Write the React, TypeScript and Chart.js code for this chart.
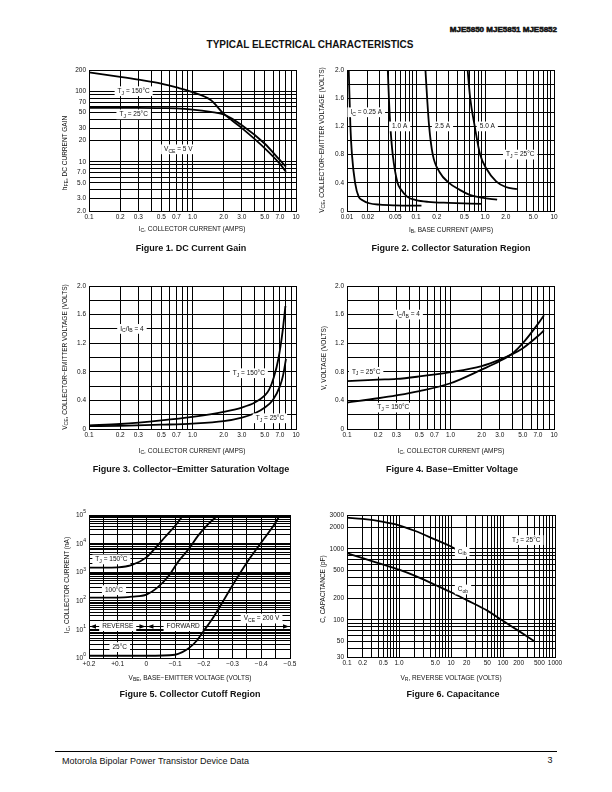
import React, { useEffect, useRef } from 'react';
import { Chart, registerables } from 'chart.js';

Chart.register(...registerables);

const FONT = '"Liberation Sans", Arial, Helvetica, sans-serif';
const INK = '#111';

// ---------- Figure 1: DC current gain ----------
const f1IcHot = [0.1, 0.2, 0.3, 0.5, 0.7, 1.0, 1.5, 2.0, 3.0, 5.0, 7.0, 8.0];
const f1HfeHot = [185, 160, 146, 128, 113, 97, 75, 48, 30, 15.5, 9.3, 7.2];
const f1IcRoom = [0.1, 0.3, 0.5, 0.7, 1.0, 1.5, 2.0, 3.0, 5.0, 7.0, 8.0];
const f1HfeRoom = [58, 58, 57.5, 57, 55, 51, 47, 33, 18, 10.5, 8.5];
const f1XTickVals = [0.1, 0.2, 0.3, 0.5, 0.7, 1, 2, 3, 5, 7, 10];
const f1XTickText = ['0.1', '0.2', '0.3', '0.5', '0.7', '1.0', '2.0', '3.0', '5.0', '7.0', '10'];
const f1YTickVals = [2, 3, 5, 7, 10, 20, 30, 50, 70, 100, 200];
const f1YTickText = ['2.0', '3.0', '5.0', '7.0', '10', '20', '30', '50', '70', '100', '200'];
const f1Notes = [
  { x: 0.27, y: 100, text: 'T_{J} = 150°C' },
  { x: 0.27, y: 47, text: 'T_{J} = 25°C' },
  { x: 0.73, y: 15, text: 'V_{CE} = 5 V' },
];

// ---------- Figure 2: collector saturation region ----------
const f2Ib025 = [0.0106, 0.0112, 0.0118, 0.0131, 0.0148, 0.017, 0.021, 0.03, 0.05, 0.12];
const f2Vce025 = [2.0, 1.2, 0.8, 0.4, 0.2, 0.15, 0.11, 0.09, 0.08, 0.075];
const f2Ib10 = [0.039, 0.0405, 0.0425, 0.046, 0.054, 0.061, 0.075, 0.1, 0.15, 0.3, 0.9];
const f2Vce10 = [2.0, 1.6, 1.2, 0.8, 0.4, 0.3, 0.2, 0.155, 0.13, 0.115, 0.1];
const f2Ib25 = [0.137, 0.145, 0.155, 0.175, 0.22, 0.3, 0.43, 0.6, 0.9, 1.5];
const f2Vce25 = [2.0, 1.6, 1.2, 0.8, 0.55, 0.4, 0.3, 0.23, 0.19, 0.16];
const f2Ib50 = [0.56, 0.61, 0.71, 0.85, 1.05, 1.45, 2.0, 2.9];
const f2Vce50 = [2.0, 1.6, 1.2, 0.8, 0.6, 0.42, 0.34, 0.31];
const f2XTickVals = [0.01, 0.02, 0.05, 0.1, 0.2, 0.5, 1, 2, 5, 10];
const f2XTickText = ['0.01', '0.02', '0.05', '0.1', '0.2', '0.5', '1.0', '2.0', '5.0', '10'];
const voltTickVals = [0, 0.4, 0.8, 1.2, 1.6, 2.0];
const voltTickText = ['0', '0.4', '0.8', '1.2', '1.6', '2.0'];
const f2Notes = [
  { x: 0.019, y: 1.4, text: 'I_{C} = 0.25 A' },
  { x: 0.058, y: 1.2, text: '1.0 A' },
  { x: 0.242, y: 1.2, text: '2.5 A' },
  { x: 1.08, y: 1.2, text: '5.0 A' },
  { x: 3.24, y: 0.8, text: 'T_{J} = 25°C' },
];

// ---------- Figure 3: collector-emitter saturation voltage ----------
const f3IcHot = [0.1, 0.2, 0.5, 1.0, 2.0, 3.0, 4.0, 5.0, 5.5, 6.1, 6.8, 7.4, 7.9];
const f3VceHot = [0.05, 0.07, 0.12, 0.17, 0.24, 0.3, 0.37, 0.47, 0.55, 0.72, 1.0, 1.35, 1.72];
const f3IcRoom = [0.1, 0.2, 0.5, 1.0, 2.0, 3.0, 4.0, 5.0, 6.0, 7.0, 7.5, 8.0];
const f3VceRoom = [0.04, 0.045, 0.06, 0.075, 0.11, 0.16, 0.22, 0.3, 0.41, 0.6, 0.75, 0.98];
const f3Notes = [
  { x: 0.26, y: 1.4, text: 'I_{C}/I_{B} = 4' },
  { x: 3.5, y: 0.78, text: 'T_{J} = 150°C' },
  { x: 5.6, y: 0.15, text: 'T_{J} = 25°C' },
];

// ---------- Figure 4: base-emitter voltage ----------
const f4IcRoom = [0.1, 0.2, 0.3, 0.5, 1.0, 2.0, 3.0, 4.0, 5.0, 7.0, 8.0];
const f4VRoom = [0.67, 0.69, 0.7, 0.735, 0.795, 0.88, 0.97, 1.05, 1.13, 1.3, 1.38];
const f4IcHot = [0.1, 0.2, 0.3, 0.5, 1.0, 2.0, 3.0, 4.0, 5.0, 7.0, 8.0];
const f4VHot = [0.37, 0.43, 0.47, 0.53, 0.64, 0.83, 0.95, 1.06, 1.2, 1.47, 1.59];
const f4Notes = [
  { x: 0.39, y: 1.6, text: 'I_{C}/I_{B} = 4' },
  { x: 0.153, y: 0.8, text: 'T_{J} = 25°C' },
  { x: 0.28, y: 0.3, text: 'T_{J} = 150°C' },
];

// ---------- Figure 5: collector cutoff region ----------
const f5Vbe150 = [0.2, 0.15, 0.1, 0.05, 0, -0.03, -0.065, -0.1, -0.128];
const f5Ic150 = [1450, 1450, 1480, 1800, 3300, 6800, 17000, 42000, 100000];
const f5Vbe100 = [0.2, 0.1, 0.05, 0, -0.04, -0.08, -0.11, -0.15, -0.18, -0.215, -0.25];
const f5Ic100 = [130, 130, 140, 165, 300, 800, 2300, 7000, 19000, 48000, 100000];
const f5Vbe25 = [0.2, 0, -0.1, -0.125, -0.15, -0.175, -0.2, -0.225, -0.25, -0.3, -0.35, -0.4, -0.45, -0.465];
const f5Ic25 = [1.2, 1.2, 1.3, 1.6, 2.3, 4, 9, 20, 50, 350, 2200, 11000, 55000, 100000];
const f5XTickVals = [0.2, 0.1, 0, -0.1, -0.2, -0.3, -0.4, -0.5];
const f5XTickText = ['+0.2', '+0.1', '0', '−0.1', '−0.2', '−0.3', '−0.4', '−0.5'];
const f5YTickVals = [1, 10, 100, 1000, 10000, 100000];
const f5YTickBase = ['10', '10', '10', '10', '10', '10'];
const f5YTickExp = ['0', '1', '2', '3', '4', '5'];
const f5RowLevel = 13;
const f5Notes = [
  { x: 0.122, y: 2800, text: 'T_{J} = 150°C' },
  { x: 0.113, y: 235, text: '100°C' },
  { x: 0.093, y: 2.4, text: '25°C' },
  { x: -0.401, y: 24, text: 'V_{CE} = 200 V' },
  { x: 0.1, y: f5RowLevel, text: 'REVERSE' },
  { x: -0.128, y: f5RowLevel, text: 'FORWARD' },
];

// ---------- Figure 6: capacitance ----------
const f6VrCib = [0.1, 0.2, 0.5, 1.0, 2.0, 5.0, 10, 12];
const f6Cib = [2750, 2640, 2400, 2150, 1800, 1350, 1080, 1000];
const f6VrCob = [0.1, 0.2, 0.5, 1.0, 2.0, 5.0, 10, 20, 50, 100, 200, 400];
const f6Cob = [870, 740, 600, 510, 420, 310, 245, 190, 135, 97, 70, 50];
const f6XTickVals = [0.1, 0.2, 0.5, 1, 5, 10, 20, 50, 100, 200, 500, 1000];
const f6XTickText = ['0.1', '0.2', '0.5', '1.0', '5.0', '10', '20', '50', '100', '200', '500', '1000'];
const f6YTickVals = [30, 50, 100, 200, 500, 1000, 2000, 3000];
const f6YTickText = ['30', '50', '100', '200', '500', '1000', '2000', '3000'];
const f6Notes = [
  { x: 16.4, y: 910, text: 'C_{ib}' },
  { x: 17, y: 268, text: 'C_{ob}' },
  { x: 280, y: 1330, text: 'T_{J} = 25°C' },
];

// ---------- helpers ----------
function logGrid(min: number, max: number): number[] {
  const out: number[] = [];
  for (let e = Math.floor(Math.log10(min)); e <= Math.ceil(Math.log10(max)); e++) {
    for (let d = 1; d <= 9; d++) {
      const v = +(d * Math.pow(10, e)).toPrecision(6);
      if (v >= min * 0.9999 && v <= max * 1.0001) out.push(v);
    }
  }
  return out;
}
function linGrid(min: number, max: number, step: number): number[] {
  const out: number[] = [];
  const n = Math.round((max - min) / step);
  for (let i = 0; i <= n; i++) out.push(+(min + i * step).toFixed(6));
  return out;
}
function labelFor(v: number, vals: number[], text: string[]): string {
  for (let i = 0; i < vals.length; i++) {
    if (Math.abs(v - vals[i]) <= 1e-6 * Math.max(1e-3, Math.abs(vals[i]))) return text[i];
  }
  return '';
}
function parseRich(text: string) {
  const parts: { t: string; sub: boolean }[] = [];
  const re = /_\{([^}]*)\}/g;
  let last = 0;
  let m: RegExpExecArray | null;
  while ((m = re.exec(text))) {
    if (m.index > last) parts.push({ t: text.slice(last, m.index), sub: false });
    parts.push({ t: m[1], sub: true });
    last = re.lastIndex;
  }
  if (last < text.length) parts.push({ t: text.slice(last), sub: false });
  return parts;
}
function drawRich(ctx: CanvasRenderingContext2D, cx: number, cy: number, text: string, size = 6.5) {
  const parts = parseRich(text);
  const subSize = size * 0.78;
  let w = 0;
  const widths: number[] = [];
  for (const p of parts) {
    ctx.font = `${p.sub ? subSize : size}px ${FONT}`;
    const pw = ctx.measureText(p.t).width;
    widths.push(pw);
    w += pw;
  }
  ctx.fillStyle = '#fff';
  ctx.fillRect(cx - w / 2 - 3, cy - size * 0.75, w + 6, size * 1.5);
  ctx.fillStyle = INK;
  ctx.textBaseline = 'middle';
  ctx.textAlign = 'left';
  let x = cx - w / 2;
  parts.forEach((p, i) => {
    ctx.font = `${p.sub ? subSize : size}px ${FONT}`;
    ctx.fillText(p.t, x, p.sub ? cy + size * 0.3 : cy);
    x += widths[i];
  });
}
function arrowHead(ctx: CanvasRenderingContext2D, tipX: number, y: number, dir: number) {
  ctx.beginPath();
  ctx.moveTo(tipX, y);
  ctx.lineTo(tipX - dir * 6, y - 2.3);
  ctx.lineTo(tipX - dir * 6, y + 2.3);
  ctx.closePath();
  ctx.fill();
}

type AxisSpec = {
  type: 'logarithmic' | 'linear';
  min: number;
  max: number;
  grid: number[];
  vals: number[];
  text: string[];
  reverse?: boolean;
};
type Spec = {
  rect: [number, number, number, number];
  x: AxisSpec;
  y: AxisSpec;
  series: { x: number[]; y: number[] }[];
  notes: { x: number; y: number; text: string }[];
  extra?: (chart: any) => void;
};

const PADL = 5;
const YW = 40;
const PADT = 10;
const XH = 16;
const PADR = 22;
const PADB = 4;

function axisOptions(a: AxisSpec, isX: boolean) {
  return {
    type: a.type,
    min: a.min,
    max: a.max,
    reverse: !!a.reverse,
    afterBuildTicks: (s: any) => {
      s.ticks = a.grid.map((v) => ({ value: v }));
    },
    afterFit: (s: any) => {
      if (isX) s.height = XH;
      else s.width = YW;
      s.paddingLeft = 0;
      s.paddingRight = 0;
      s.paddingTop = 0;
      s.paddingBottom = 0;
    },
    ticks: {
      autoSkip: false,
      maxRotation: 0,
      minRotation: 0,
      padding: isX ? 2 : 3,
      color: INK,
      font: { family: FONT, size: 6.5 },
      callback: (v: any) => labelFor(Number(v), a.vals, a.text),
    },
    grid: { color: '#000', lineWidth: 1, drawTicks: false },
    border: { display: true, color: '#000', width: 1 },
  };
}

function Panel({ spec }: { spec: Spec }) {
  const ref = useRef<HTMLCanvasElement>(null);
  const [L, T, W, H] = spec.rect;
  const cw = W + YW + PADL + PADR;
  const ch = H + PADT + XH + PADB;
  useEffect(() => {
    if (!ref.current) return;
    const chart = new Chart(ref.current, {
      type: 'line',
      data: {
        datasets: spec.series.map((s) => ({
          data: s.x.map((x, i) => ({ x, y: s.y[i] })),
          borderColor: '#000',
          borderWidth: 1.8,
          pointRadius: 0,
          fill: false,
          cubicInterpolationMode: 'monotone',
        })) as any,
      },
      options: {
        animation: false,
        responsive: false,
        devicePixelRatio: 1,
        events: [],
        layout: { padding: { left: PADL, top: PADT, right: PADR, bottom: PADB } },
        plugins: { legend: { display: false }, tooltip: { enabled: false } },
        scales: {
          x: axisOptions(spec.x, true) as any,
          y: axisOptions(spec.y, false) as any,
        },
      },
      plugins: [
        {
          id: 'notes',
          afterDatasetsDraw(c: any) {
            const ctx = c.ctx as CanvasRenderingContext2D;
            ctx.save();
            if (spec.extra) spec.extra(c);
            for (const n of spec.notes) {
              drawRich(ctx, c.scales.x.getPixelForValue(n.x), c.scales.y.getPixelForValue(n.y), n.text);
            }
            ctx.restore();
          },
        },
      ],
    });
    return () => chart.destroy();
  }, []);
  return (
    <canvas
      ref={ref}
      width={cw}
      height={ch}
      style={{ position: 'absolute', left: L - PADL - YW, top: T - PADT, width: cw, height: ch }}
    />
  );
}

const f5Extra = (c: any) => {
  const ctx = c.ctx as CanvasRenderingContext2D;
  const a = c.chartArea;
  const yy = Math.round(c.scales.y.getPixelForValue(f5RowLevel)) + 0.5;
  const x0 = c.scales.x.getPixelForValue(0);
  ctx.strokeStyle = '#000';
  ctx.lineWidth = 1;
  ctx.beginPath();
  ctx.moveTo(a.left, yy);
  ctx.lineTo(a.right, yy);
  ctx.stroke();
  ctx.fillStyle = '#000';
  arrowHead(ctx, a.left + 1, yy, -1);
  arrowHead(ctx, x0 - 1, yy, 1);
  arrowHead(ctx, x0 + 1, yy, -1);
  arrowHead(ctx, a.right - 1, yy, 1);
  // power-of-ten tick labels with raised exponents
  ctx.fillStyle = INK;
  ctx.textBaseline = 'middle';
  f5YTickVals.forEach((v, i) => {
    const py = c.scales.y.getPixelForValue(v);
    ctx.font = `5px ${FONT}`;
    const ew = ctx.measureText(f5YTickExp[i]).width;
    ctx.textAlign = 'left';
    const right = a.left - 3;
    ctx.fillText(f5YTickExp[i], right - ew, py - 3);
    ctx.font = `6.5px ${FONT}`;
    ctx.textAlign = 'right';
    ctx.fillText(f5YTickBase[i], right - ew, py + 0.5);
  });
};

const specs: Spec[] = [
  {
    rect: [89, 70, 207, 141],
    x: { type: 'logarithmic', min: 0.1, max: 10, grid: logGrid(0.1, 10), vals: f1XTickVals, text: f1XTickText },
    y: { type: 'logarithmic', min: 2, max: 200, grid: logGrid(2, 200), vals: f1YTickVals, text: f1YTickText },
    series: [
      { x: f1IcHot, y: f1HfeHot },
      { x: f1IcRoom, y: f1HfeRoom },
    ],
    notes: f1Notes,
  },
  {
    rect: [347, 70, 207, 141],
    x: { type: 'logarithmic', min: 0.01, max: 10, grid: logGrid(0.01, 10), vals: f2XTickVals, text: f2XTickText },
    y: { type: 'linear', min: 0, max: 2, grid: linGrid(0, 2, 0.2), vals: voltTickVals, text: voltTickText },
    series: [
      { x: f2Ib025, y: f2Vce025 },
      { x: f2Ib10, y: f2Vce10 },
      { x: f2Ib25, y: f2Vce25 },
      { x: f2Ib50, y: f2Vce50 },
    ],
    notes: f2Notes,
  },
  {
    rect: [89, 286, 207, 143],
    x: { type: 'logarithmic', min: 0.1, max: 10, grid: logGrid(0.1, 10), vals: f1XTickVals, text: f1XTickText },
    y: { type: 'linear', min: 0, max: 2, grid: linGrid(0, 2, 0.2), vals: voltTickVals, text: voltTickText },
    series: [
      { x: f3IcHot, y: f3VceHot },
      { x: f3IcRoom, y: f3VceRoom },
    ],
    notes: f3Notes,
  },
  {
    rect: [347, 286, 207, 143],
    x: { type: 'logarithmic', min: 0.1, max: 10, grid: logGrid(0.1, 10), vals: f1XTickVals, text: f1XTickText },
    y: { type: 'linear', min: 0, max: 2, grid: linGrid(0, 2, 0.2), vals: voltTickVals, text: voltTickText },
    series: [
      { x: f4IcRoom, y: f4VRoom },
      { x: f4IcHot, y: f4VHot },
    ],
    notes: f4Notes,
  },
  {
    rect: [89, 515, 201, 143],
    x: { type: 'linear', min: -0.5, max: 0.2, reverse: true, grid: linGrid(-0.5, 0.2, 0.05), vals: f5XTickVals, text: f5XTickText },
    y: { type: 'logarithmic', min: 1, max: 100000, grid: logGrid(1, 100000), vals: [], text: [] },
    series: [
      { x: f5Vbe150, y: f5Ic150 },
      { x: f5Vbe100, y: f5Ic100 },
      { x: f5Vbe25, y: f5Ic25 },
    ],
    notes: f5Notes,
    extra: f5Extra,
  },
  {
    rect: [347, 515, 208, 142],
    x: { type: 'logarithmic', min: 0.1, max: 1000, grid: logGrid(0.1, 1000), vals: f6XTickVals, text: f6XTickText },
    y: { type: 'logarithmic', min: 30, max: 3000, grid: logGrid(30, 3000), vals: f6YTickVals, text: f6YTickText },
    series: [
      { x: f6VrCib, y: f6Cib },
      { x: f6VrCob, y: f6Cob },
    ],
    notes: f6Notes,
  },
];

function Sub({ children }: { children: React.ReactNode }) {
  return <span style={{ fontSize: '0.78em', position: 'relative', top: '0.28em' }}>{children}</span>;
}

function Txt({
  x,
  y,
  size = 6.5,
  bold = false,
  rot = false,
  anchor = 'center',
  children,
  style,
}: {
  x: number;
  y: number;
  size?: number;
  bold?: boolean;
  rot?: boolean;
  anchor?: 'center' | 'left' | 'right';
  children: React.ReactNode;
  style?: React.CSSProperties;
}) {
  const tx = anchor === 'center' ? '-50%' : anchor === 'right' ? '-100%' : '0';
  return (
    <div
      style={{
        position: 'absolute',
        left: x,
        top: y,
        fontSize: size,
        fontWeight: bold ? 700 : 400,
        whiteSpace: 'nowrap',
        lineHeight: 1,
        transform: `translate(${tx},-50%)${rot ? ' rotate(-90deg)' : ''}`,
        ...style,
      }}
    >
      {children}
    </div>
  );
}

export default function App() {
  return (
    <div
      style={{
        position: 'absolute',
        left: 0,
        top: 0,
        width: 612,
        height: 792,
        background: '#fff',
        fontFamily: FONT,
        color: INK,
        overflow: 'hidden',
      }}
    >
      <Txt x={557} y={30} size={8} bold anchor="right" style={{ WebkitTextStroke: '0.55px #111' }}>
        MJE5850 MJE5851 MJE5852
      </Txt>
      <Txt x={310} y={45} size={10} bold>
        TYPICAL ELECTRICAL CHARACTERISTICS
      </Txt>

      {specs.map((s, i) => (
        <Panel key={i} spec={s} />
      ))}

      {/* Figure 1 */}
      <Txt x={65} y={153} rot>
        h<Sub>FE</Sub>, DC CURRENT GAIN
      </Txt>
      <Txt x={192} y={229}>
        I<Sub>C</Sub>, COLLECTOR CURRENT (AMPS)
      </Txt>
      <Txt x={191} y={248} size={9} bold>
        Figure 1. DC Current Gain
      </Txt>

      {/* Figure 2 */}
      <Txt x={322} y={140} rot>
        V<Sub>CE</Sub>, COLLECTOR−EMITTER VOLTAGE (VOLTS)
      </Txt>
      <Txt x={451} y={230}>
        I<Sub>B</Sub>, BASE CURRENT (AMPS)
      </Txt>
      <Txt x={451} y={248} size={9} bold>
        Figure 2. Collector Saturation Region
      </Txt>

      {/* Figure 3 */}
      <Txt x={65} y={357} rot>
        V<Sub>CE</Sub>, COLLECTOR−EMITTER VOLTAGE (VOLTS)
      </Txt>
      <Txt x={192} y={451}>
        I<Sub>C</Sub>, COLLECTOR CURRENT (AMPS)
      </Txt>
      <Txt x={191} y={469} size={9} bold>
        Figure 3. Collector−Emitter Saturation Voltage
      </Txt>

      {/* Figure 4 */}
      <Txt x={324} y={358} rot>
        V, VOLTAGE (VOLTS)
      </Txt>
      <Txt x={451} y={451}>
        I<Sub>C</Sub>, COLLECTOR CURRENT (AMPS)
      </Txt>
      <Txt x={452} y={469} size={9} bold>
        Figure 4. Base−Emitter Voltage
      </Txt>

      {/* Figure 5 */}
      <Txt x={67} y={585} rot>
        I<Sub>C</Sub>, COLLECTOR CURRENT (nA)
      </Txt>
      <Txt x={190} y={678}>
        V<Sub>BE</Sub>, BASE−EMITTER VOLTAGE (VOLTS)
      </Txt>
      <Txt x={190} y={694} size={9} bold>
        Figure 5. Collector Cutoff Region
      </Txt>

      {/* Figure 6 */}
      <Txt x={323} y={589} rot>
        C, CAPACITANCE (pF)
      </Txt>
      <Txt x={451} y={678}>
        V<Sub>R</Sub>, REVERSE VOLTAGE (VOLTS)
      </Txt>
      <Txt x={453} y={694} size={9} bold>
        Figure 6. Capacitance
      </Txt>

      {/* footer */}
      <div style={{ position: 'absolute', left: 55, top: 751, width: 502, height: 1, background: '#000' }} />
      <Txt x={62} y={761} size={9} anchor="left">
        Motorola Bipolar Power Transistor Device Data
      </Txt>
      <Txt x={550} y={760} size={9}>
        3
      </Txt>
    </div>
  );
}
